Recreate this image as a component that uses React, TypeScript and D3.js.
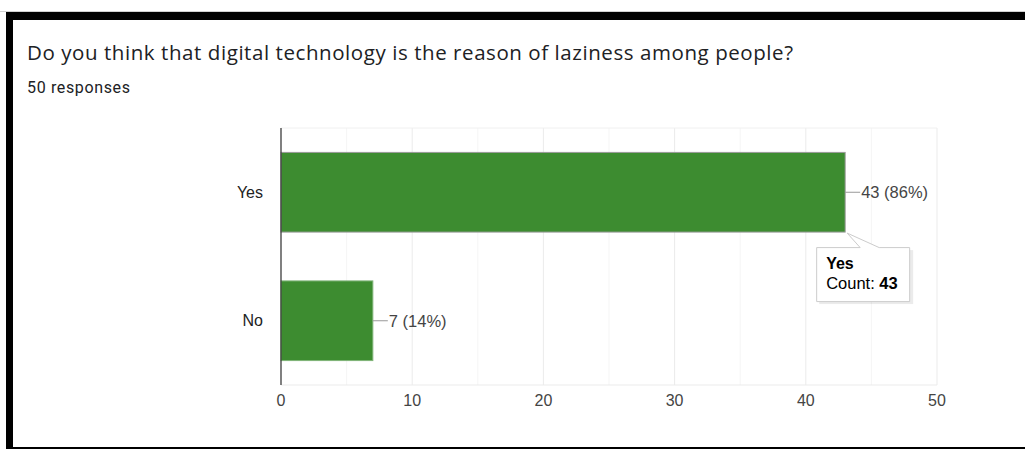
import React from 'react';
import * as d3 from 'd3';

const title = 'Do you think that digital technology is the reason of laziness among people?';
const subtitle = '50 responses';
const categories = ['Yes', 'No'];
const counts = [43, 7];
const xTicks = [0, 10, 20, 30, 40, 50];
const minorTicks = [5, 15, 25, 35, 45];
const hovered = 'Yes';

const W = 1025;
const H = 449;
const plot = { left: 281, right: 937, top: 128, bottom: 385 };
const font = "'Liberation Sans', Arial, sans-serif";

const App = () => {
    const total = d3.sum(counts);

    // Scales
    const x = d3.scaleLinear().domain([0, 50]).range([plot.left, plot.right]);
    const y = d3.scaleBand<string>()
        .domain(categories)
        .range([plot.top, plot.bottom])
        .paddingInner(0.38)
        .paddingOuter(0.19);

    const hi = categories.indexOf(hovered);
    const hx = x(counts[hi]);
    const hy = (y(hovered) as number) + y.bandwidth();

    return (
        <div style={{ position: 'absolute', left: 0, top: 0 }}>
            <svg width={W} height={H} style={{ display: 'block', background: '#fff' }}>
                {/* page frame */}
                <rect x={0} y={11} width={W} height={1} fill="#d0d0d0" />
                <rect x={6} y={12} width={W - 6} height={8} fill="#000" />
                <rect x={6} y={12} width={7} height={H - 12} fill="#000" />
                <rect x={6} y={447} width={W - 6} height={2} fill="#000" />

                <text x={27} y={60} fontFamily="'Open Sans', Roboto, sans-serif" fontSize={20.5} fill="#202124"
                    textLength={766} lengthAdjust="spacing">
                    {title}
                </text>
                <text x={27} y={93} fontFamily="Roboto, sans-serif" fontSize={16} fill="#202124"
                    textLength={103} lengthAdjust="spacing">
                    {subtitle}
                </text>

                {/* gridlines */}
                {minorTicks.map(t => (
                    <line key={'m' + t} x1={x(t)} x2={x(t)} y1={plot.top} y2={plot.bottom} stroke="#f5f5f5" />
                ))}
                {xTicks.map(t => (
                    <line key={'g' + t} x1={x(t)} x2={x(t)} y1={plot.top} y2={plot.bottom} stroke="#ebebeb" />
                ))}
                <line x1={plot.left} x2={plot.right} y1={plot.top} y2={plot.top} stroke="#f0f0f0" />
                <line x1={plot.left} x2={plot.right} y1={plot.bottom} y2={plot.bottom} stroke="#ebebeb" />

                {/* bars */}
                {categories.map((c, i) => (
                    <rect
                        key={c}
                        x={x(0)}
                        y={y(c)}
                        width={x(counts[i]) - x(0)}
                        height={y.bandwidth()}
                        fill="#3d8c30"
                        stroke={c === hovered ? '#9a9a9a' : '#7fb377'}
                        strokeWidth={1}
                    />
                ))}

                {/* baseline */}
                <line x1={plot.left} x2={plot.left} y1={plot.top} y2={plot.bottom} stroke="#333" strokeWidth={1.2} />

                {/* category labels */}
                {categories.map(c => (
                    <text
                        key={'l' + c}
                        x={263}
                        y={(y(c) as number) + y.bandwidth() / 2}
                        dy="0.35em"
                        textAnchor="end"
                        fontFamily={font}
                        fontSize={16}
                        fill="#222"
                    >
                        {c}
                    </text>
                ))}

                {/* annotations */}
                {categories.map((c, i) => {
                    const cy = (y(c) as number) + y.bandwidth() / 2;
                    const ex = x(counts[i]);
                    return (
                        <g key={'a' + c}>
                            <line x1={ex} x2={ex + 15} y1={cy} y2={cy} stroke="#999" />
                            <text x={ex + 16} y={cy} dy="0.35em" fontFamily={font} fontSize={16.5} fill="#444">
                                {`${counts[i]} (${Math.round((counts[i] / total) * 100)}%)`}
                            </text>
                        </g>
                    );
                })}

                {/* x tick labels */}
                {xTicks.map(t => (
                    <text key={'t' + t} x={x(t)} y={406} textAnchor="middle" fontFamily={font} fontSize={16} fill="#444">
                        {t}
                    </text>
                ))}

                {/* tooltip */}
                <g>
                    <rect x={hx - 27} y={hy + 17} width={94} height={54} fill="#000" opacity={0.08} transform="translate(1,1)" />
                    <path
                        d={`M${hx - 28.5},${hy + 15.5} H${hx + 15} L${hx + 2},${hy + 1} L${hx + 34},${hy + 15.5} H${hx + 64.5} V${hy + 69.5} H${hx - 28.5} Z`}
                        fill="#fff"
                        stroke="#cccccc"
                    />
                    <text x={hx - 19} y={hy + 37} fontFamily={font} fontSize={16} fontWeight="bold" fill="#000">
                        {hovered}
                    </text>
                    <text x={hx - 19} y={hy + 57} fontFamily={font} fontSize={16.5} fill="#000">
                        Count: <tspan fontWeight="bold">{counts[hi]}</tspan>
                    </text>
                </g>
            </svg>
        </div>
    );
};

export default App;
